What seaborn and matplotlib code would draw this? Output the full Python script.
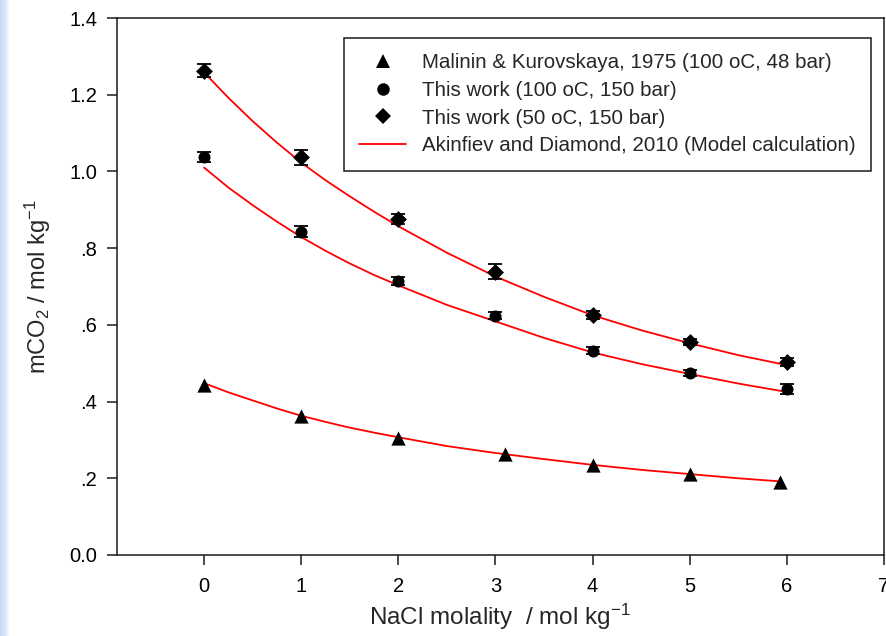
import numpy as np
import pandas as pd
import matplotlib
matplotlib.use("Agg")
import matplotlib.pyplot as plt
from matplotlib.lines import Line2D
from matplotlib.colors import LinearSegmentedColormap
import seaborn as sns

# ---------------- data ----------------
x_malinin = [0, 1, 2, 3.1, 4, 5, 5.93]
y_malinin = [0.443, 0.363, 0.306, 0.264, 0.234, 0.211, 0.191]

x_work = [0, 1, 2, 3, 4, 5, 6]
y_100C = [1.037, 0.843, 0.714, 0.624, 0.533, 0.474, 0.433]
err_100C = [0.013, 0.014, 0.010, 0.010, 0.008, 0.008, 0.013]
y_50C = [1.263, 1.037, 0.876, 0.739, 0.626, 0.555, 0.503]
err_50C = [0.016, 0.020, 0.012, 0.020, 0.010, 0.008, 0.010]

x_model = [0, 0.25, 0.5, 0.75, 1, 1.25, 1.5, 1.75, 2, 2.5, 3, 3.5, 4, 4.5, 5, 5.5, 6]
model_50C = [1.258, 1.192, 1.131, 1.075, 1.023, 0.977, 0.935, 0.895, 0.857,
             0.788, 0.726, 0.673, 0.625, 0.586, 0.552, 0.521, 0.495]
model_100C = [1.010, 0.958, 0.912, 0.869, 0.829, 0.793, 0.760, 0.730, 0.703,
              0.652, 0.609, 0.566, 0.528, 0.498, 0.472, 0.447, 0.425]
x_model_m = [0, 0.25, 0.5, 0.75, 1, 1.25, 1.5, 1.75, 2, 2.5, 3, 3.5, 4, 4.5, 5, 5.5, 5.93]
model_malinin = [0.448, 0.424, 0.403, 0.382, 0.363, 0.347, 0.332, 0.319, 0.307,
                 0.284, 0.266, 0.250, 0.235, 0.222, 0.211, 0.200, 0.192]

legend_labels = [
    "Malinin & Kurovskaya, 1975 (100 oC, 48 bar)",
    "This work (100 oC, 150 bar)",
    "This work (50 oC, 150 bar)",
    "Akinfiev and Diamond, 2010 (Model calculation)",
]
x_ticks = [0, 1, 2, 3, 4, 5, 6, 7]
y_ticks = [0.0, 0.2, 0.4, 0.6, 0.8, 1.0, 1.2, 1.4]
y_tick_labels = ["0.0", ".2", ".4", ".6", ".8", "1.0", "1.2", "1.4"]

# ---------------- style ----------------
sns.set_style("ticks")
plt.rcParams["font.family"] = ["Liberation Sans", "DejaVu Sans"]
plt.rcParams["mathtext.default"] = "regular"

fig = plt.figure(figsize=(8.86, 6.36), dpi=100)
fig.patch.set_facecolor("white")
ax = fig.add_axes([116.7 / 886, 1 - 555 / 636, (884 - 116.7) / 886, (555 - 18) / 636])

# light blue strip on the left edge
strip = fig.add_axes([0, 0, 10 / 886, 1])
grad = np.linspace(0, 1, 50).reshape(1, -1)
cmap = LinearSegmentedColormap.from_list("strip", ["#c4d9f5", "#d9e7fa", "#ffffff"])
strip.imshow(grad, aspect="auto", cmap=cmap, extent=[0, 1, 0, 1])
strip.set_axis_off()

red = "#ff0000"
lw_model = 1.3

# model curves
sns.lineplot(x=x_model, y=model_50C, ax=ax, color=red, lw=lw_model, sort=False, zorder=2)
sns.lineplot(x=x_model, y=model_100C, ax=ax, color=red, lw=lw_model, sort=False, zorder=2)
sns.lineplot(x=x_model_m, y=model_malinin, ax=ax, color=red, lw=lw_model, sort=False, zorder=2)

# error bars
ax.errorbar(x_work, y_100C, yerr=err_100C, fmt="none", ecolor="black",
            elinewidth=1.2, capsize=5.2, capthick=1.3, zorder=3)
ax.errorbar(x_work, y_50C, yerr=err_50C, fmt="none", ecolor="black",
            elinewidth=1.2, capsize=5.2, capthick=1.3, zorder=3)

# markers
sns.scatterplot(x=x_malinin, y=y_malinin, ax=ax, marker="^", s=105, color="black",
                edgecolor="black", linewidth=0, zorder=4)
sns.scatterplot(x=x_work, y=y_100C, ax=ax, marker="o", s=75, color="black",
                edgecolor="black", linewidth=0, zorder=4)
sns.scatterplot(x=x_work, y=y_50C, ax=ax, marker="D", s=74, color="black",
                edgecolor="black", linewidth=0, zorder=4)

ax.set_xlim(-0.9, 7)
ax.set_ylim(0, 1.4)
ax.set_xticks(x_ticks)
ax.set_xticklabels([str(t) for t in x_ticks])
ax.set_yticks(y_ticks)
ax.set_yticklabels(y_tick_labels)

for s in ax.spines.values():
    s.set_visible(True)
    s.set_color("#1a1a1a")
    s.set_linewidth(1.1)

ax.tick_params(axis="both", direction="out", colors="#1a1a1a", labelcolor="black",
               labelsize=14.5, width=1.1, top=False, right=False)
ax.tick_params(axis="y", length=7, pad=7)
ax.tick_params(axis="x", length=7, pad=9)

ax.set_ylabel(r"mCO$_2$ / mol kg$^{-1}$", fontsize=17, labelpad=12)
ax.set_xlabel(r"NaCl molality  / mol kg$^{-1}$", fontsize=17.5, labelpad=4)

handles = [
    Line2D([], [], ls="", marker="^", color="black", ms=10.5, mew=0),
    Line2D([], [], ls="", marker="o", color="black", ms=9, mew=0),
    Line2D([], [], ls="", marker="D", color="black", ms=8.4, mew=0),
    Line2D([], [], ls="-", color=red, lw=1.3),
]
leg = ax.legend(handles, legend_labels, loc="upper right", bbox_to_anchor=(0.983, 0.963),
                borderaxespad=0, fontsize=14.8, frameon=True, fancybox=False,
                handlelength=2.3, handletextpad=0.75, borderpad=0.75, labelspacing=0.42)
leg.get_frame().set_edgecolor("#1a1a1a")
leg.get_frame().set_linewidth(1.1)
leg.get_frame().set_alpha(1)

fig.savefig("out.png", dpi=100)
